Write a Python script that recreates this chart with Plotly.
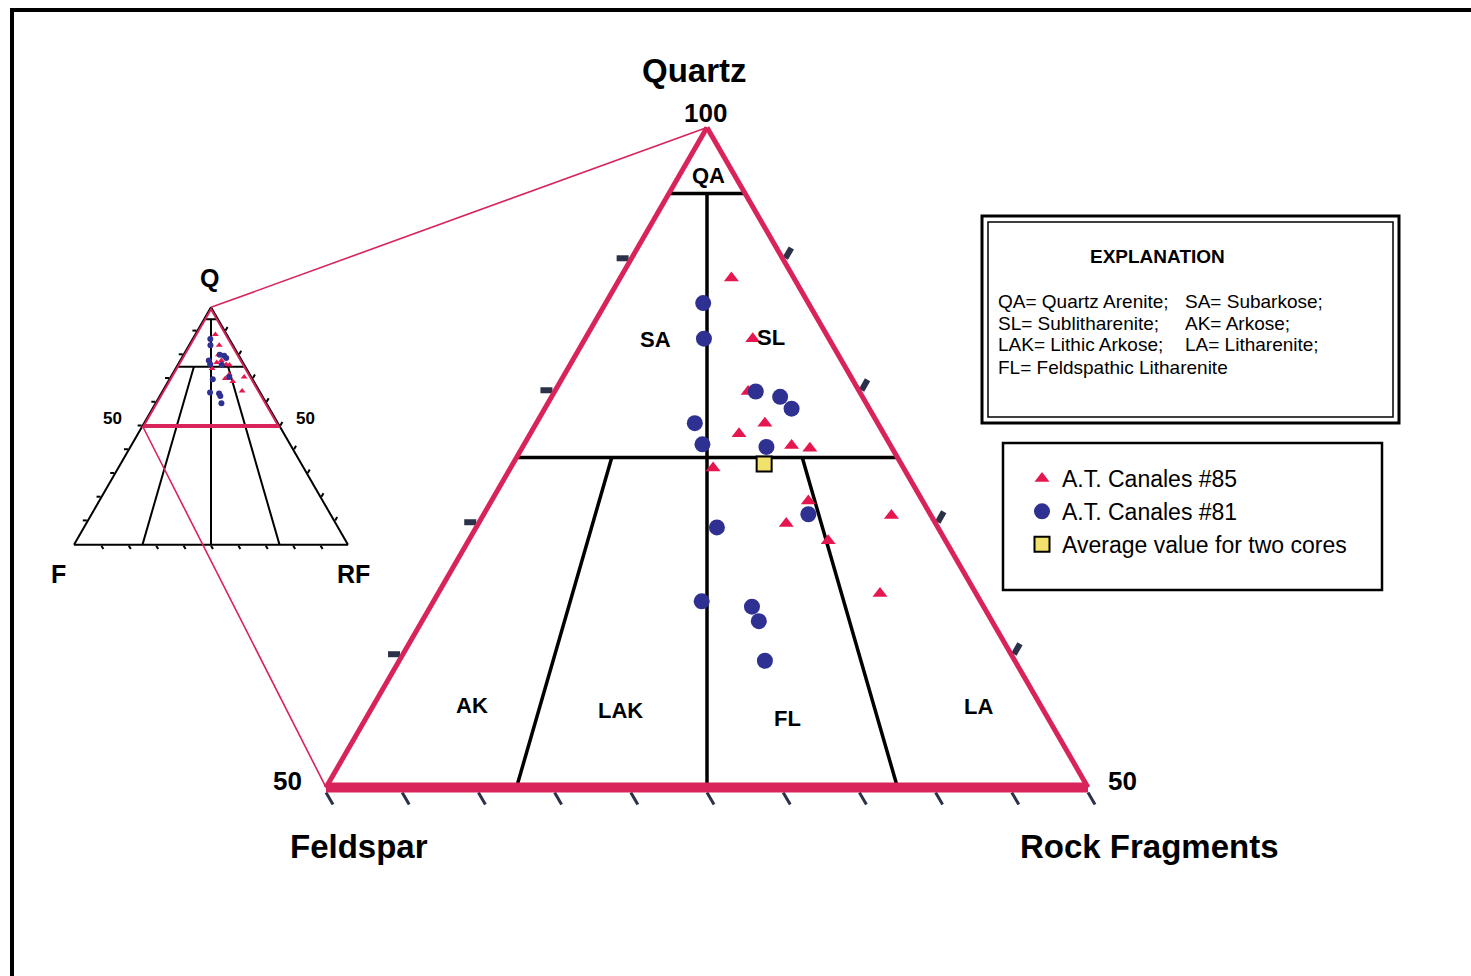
import math
import plotly.graph_objects as go

W, H = 1471, 976
FONT = "Liberation Sans, Arial, sans-serif"

# ---------------- data (percent Quartz, Feldspar, Rock Fragments) ----------------
q85 = [88.6, 84.0, 80.0, 77.6, 76.8, 75.9, 75.7, 74.2, 71.7, 70.0, 68.7, 70.6, 64.7]
f85 = [4.1, 5.0, 7.3, 7.4, 9.5, 6.5, 5.4, 12.5, 7.5, 9.8, 7.7, 2.6, 6.3]
r85 = [7.3, 11.0, 12.7, 15.0, 13.7, 17.6, 18.9, 13.3, 20.8, 20.2, 23.6, 26.8, 29.0]

q81 = [86.7, 84.0, 80.0, 79.6, 78.7, 77.6, 76.0, 75.8, 70.7, 69.7, 64.1, 63.7, 62.6, 59.6]
f81 = [6.9, 8.2, 6.8, 5.4, 5.1, 12.0, 12.3, 8.2, 8.0, 14.5, 18.3, 15.2, 15.3, 16.4]
r81 = [6.4, 7.8, 13.2, 15.0, 16.2, 10.4, 11.7, 16.0, 21.3, 15.8, 17.6, 21.1, 22.1, 24.0]

q_avg = [74.5]
f_avg = [9.0]
r_avg = [16.5]

series_names = ["A.T. Canales #85", "A.T. Canales #81", "Average value for two cores"]

# Folk classification field boundaries (Q, F, R end points)
qa_q, qa_f, qa_r = [95, 95], [5, 0], [0, 5]
q75_q, q75_f, q75_r = [75, 75], [25, 0], [0, 25]
mid_q, mid_f, mid_r = [95, 0], [2.5, 50], [2.5, 50]
fr31_q, fr31_f, fr31_r = [75, 0], [18.75, 75], [6.25, 25]
fr13_q, fr13_f, fr13_r = [75, 0], [6.25, 25], [18.75, 75]
sub_q, sub_f, sub_r = [100, 50, 50, 100], [0, 50, 0, 0], [0, 0, 50, 0]

# tick values
side_ticks = [60, 70, 80, 90]                      # quartz %, zoomed diagram, both sides
base_ticks = list(range(0, 55, 5))                 # zoomed diagram, base
full_ticks = [10, 20, 30, 40, 50, 60, 70, 80, 90]  # small full diagram

explanation_left = ["QA= Quartz Arenite;", "SL= Sublitharenite;", "LAK= Lithic Arkose;",
                    "FL= Feldspathic Litharenite"]
explanation_right = ["SA= Subarkose;", "AK= Arkose;", "LA= Litharenite;"]

# ---------------- styles ----------------
RED_LINE = "#d8245a"
RED_MK = "#e6174f"
BLUE = "#2e3192"
NAVY = "#2b3148"
YELLOW = "#f2e16a"


def P(x, y):
    return x / W, 1 - y / H


def tern_geom(cx, cy, w):
    h = w * math.sqrt(3) / 2
    dom = dict(x=[(cx - w / 2) / W, (cx + w / 2) / W], y=[1 - (cy + h / 2) / H, 1 - (cy - h / 2) / H])
    verts = dict(top=(cx, cy - h / 2), bl=(cx - w / 2, cy + h / 2), br=(cx + w / 2, cy + h / 2))
    return dom, verts


big_dom, big_v = tern_geom(707, 457.5, 762)
sm_dom, sm_v = tern_geom(211, 426, 274)

fig = go.Figure()


def boundary(sub, q, f, r, width, clip=True):
    fig.add_trace(go.Scatterternary(subplot=sub, a=q, b=f, c=r, mode="lines",
                                    line=dict(color="black", width=width), showlegend=False,
                                    hoverinfo="skip", cliponaxis=clip))


# ----- big (zoomed, Q >= 50) ternary -----
boundary("ternary", qa_q, qa_f, qa_r, 3.5)
boundary("ternary", q75_q, q75_f, q75_r, 3.5)
boundary("ternary", mid_q, mid_f, mid_r, 3.5)
boundary("ternary", fr31_q, fr31_f, fr31_r, 3.5)
boundary("ternary", fr13_q, fr13_f, fr13_r, 3.5)

fig.add_trace(go.Scatterternary(subplot="ternary", a=q85, b=f85, c=r85, mode="markers",
                                name=series_names[0],
                                marker=dict(symbol="triangle-up", size=13, color=RED_MK)))
fig.add_trace(go.Scatterternary(subplot="ternary", a=q81, b=f81, c=r81, mode="markers",
                                name=series_names[1],
                                marker=dict(symbol="circle", size=16, color=BLUE)))
fig.add_trace(go.Scatterternary(subplot="ternary", a=q_avg, b=f_avg, c=r_avg, mode="markers",
                                name=series_names[2],
                                marker=dict(symbol="square", size=15, color=YELLOW,
                                            line=dict(color="black", width=2))))

# ----- small (full) ternary -----
boundary("ternary2", qa_q, qa_f, qa_r, 2)
boundary("ternary2", q75_q, q75_f, q75_r, 2)
boundary("ternary2", mid_q, mid_f, mid_r, 2)
boundary("ternary2", fr31_q, fr31_f, fr31_r, 2)
boundary("ternary2", fr13_q, fr13_f, fr13_r, 2)
fig.add_trace(go.Scatterternary(subplot="ternary2", a=sub_q, b=sub_f, c=sub_r, mode="lines",
                                line=dict(color=RED_LINE, width=4), showlegend=False,
                                hoverinfo="skip", cliponaxis=False))
fig.add_trace(go.Scatterternary(subplot="ternary2", a=q85, b=f85, c=r85, mode="markers",
                                showlegend=False,
                                marker=dict(symbol="triangle-up", size=6, color=RED_MK)))
fig.add_trace(go.Scatterternary(subplot="ternary2", a=q81, b=f81, c=r81, mode="markers",
                                showlegend=False,
                                marker=dict(symbol="circle", size=6, color=BLUE)))


def big_axis(mn, lw, tv, tl, tw):
    return dict(min=mn, linecolor=RED_LINE, linewidth=lw, showline=True, showgrid=False,
                ticks="outside", tickmode="array", tickvals=tv, ticklen=tl, tickwidth=tw,
                tickcolor=NAVY, showticklabels=False, title=dict(text=""))


def small_axis():
    return dict(min=0, linecolor="black", linewidth=2, showline=True, showgrid=False,
                ticks="outside", tickmode="array", tickvals=full_ticks,
                ticklen=4, tickwidth=2, tickcolor="black", showticklabels=False,
                title=dict(text=""), layer="below traces")


# on the right edge (feldspar = 0) rock fragments = 100 - quartz
right_ticks = [100 - v for v in side_ticks]

fig.update_layout(
    width=W, height=H, margin=dict(l=0, r=0, t=0, b=0),
    paper_bgcolor="white", plot_bgcolor="white",
    font=dict(family=FONT, color="black"),
    ternary=dict(domain=big_dom, sum=100, bgcolor="rgba(0,0,0,0)",
                 aaxis=big_axis(50, 5, side_ticks, 12, 6),
                 baxis=big_axis(0, 10, base_ticks, 14, 3),
                 caxis=big_axis(0, 5, right_ticks, 12, 6)),
    ternary2=dict(domain=sm_dom, sum=100, bgcolor="rgba(0,0,0,0)",
                  aaxis=small_axis(), baxis=small_axis(), caxis=small_axis()),
    showlegend=True,
    legend=dict(x=1022 / W, y=1 - 457 / H, xanchor="left", yanchor="top",
                bgcolor="rgba(0,0,0,0)", borderwidth=0, itemwidth=30,
                font=dict(family=FONT, size=23, color="black"), tracegroupgap=0),
)

shapes = []


def line(p0, p1, color, width):
    x0, y0 = P(*p0)
    x1, y1 = P(*p1)
    shapes.append(dict(type="line", xref="paper", yref="paper", x0=x0, y0=y0, x1=x1, y1=y1,
                       line=dict(color=color, width=width)))


def rect(p0, p1, width):
    x0, y0 = P(*p0)
    x1, y1 = P(*p1)
    shapes.append(dict(type="rect", xref="paper", yref="paper", x0=x0, y0=y0, x1=x1, y1=y1,
                       line=dict(color="black", width=width), fillcolor="rgba(0,0,0,0)"))


# page frame
line((10, 10), (W, 10), "black", 4)
line((12, 10), (12, H), "black", 4)
# connectors between small and big triangle
sm_midleft = ((sm_v["top"][0] + sm_v["bl"][0]) / 2, (sm_v["top"][1] + sm_v["bl"][1]) / 2)
line(sm_v["top"], big_v["top"], RED_LINE, 1.6)
line(sm_midleft, big_v["bl"], RED_LINE, 1.6)
# explanation box (double border)
rect((982, 216), (1399, 423), 3)
rect((988, 222), (1393, 417), 1.5)
# legend box
rect((1003, 443), (1382, 590), 2.5)
fig.update_layout(shapes=shapes)

ann = []


def text(x, y, s, size, bold=False, xanchor="center", yanchor="middle"):
    px, py = P(x, y)
    ann.append(dict(xref="paper", yref="paper", x=px, y=py, text=f"<b>{s}</b>" if bold else s,
                    showarrow=False, xanchor=xanchor, yanchor=yanchor,
                    font=dict(family=FONT, size=size, color="black")))


# big triangle labels
text(694, 70, "Quartz", 33, True)
text(705, 113, "100", 26, True)
text(287, 781, "50", 26, True)
text(1122, 781, "50", 26, True)
text(359, 846, "Feldspar", 33, True)
text(1149, 846, "Rock Fragments", 33, True)
for (lx, ly, lab) in [(708, 175, "QA"), (655, 339, "SA"), (771, 337, "SL"), (472, 705, "AK"),
                      (620, 710, "LAK"), (787, 718, "FL"), (978, 706, "LA")]:
    text(lx, ly, lab, 22, True)
# small triangle labels
text(209, 278, "Q", 25, True)
text(58, 574, "F", 25, True)
text(353, 574, "RF", 25, True)
text(112, 418, "50", 17, True)
text(305, 418, "50", 17, True)
# explanation
text(1157, 256, "EXPLANATION", 19, True)
for i, s in enumerate(explanation_left):
    text(996, 301 + 22 * i, s, 19, xanchor="left")
for i, s in enumerate(explanation_right):
    text(1183, 301 + 22 * i, s, 19, xanchor="left")

fig.update_layout(annotations=ann)
fig.write_html("out.html")
